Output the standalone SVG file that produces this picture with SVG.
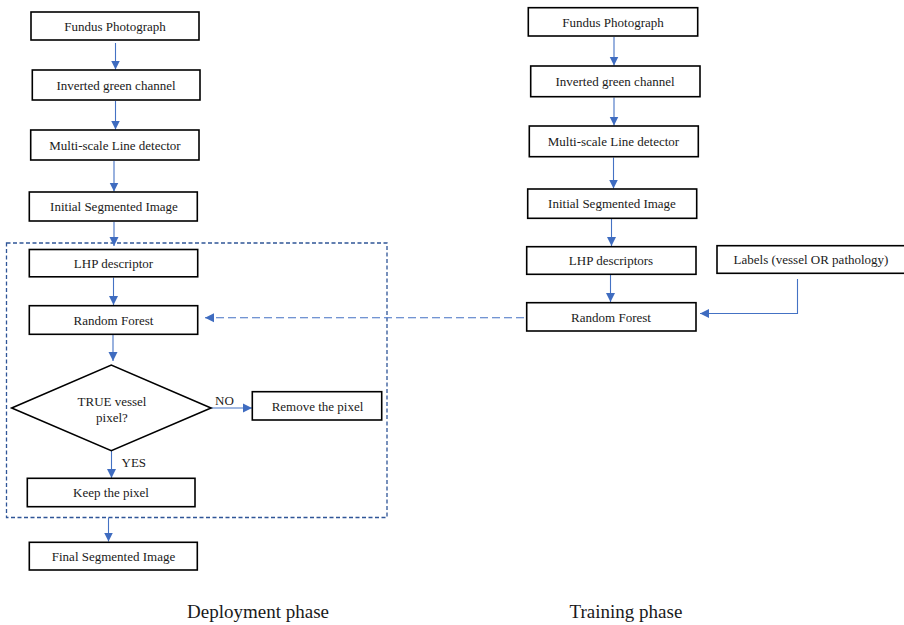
<svg xmlns="http://www.w3.org/2000/svg" width="904" height="625" viewBox="0 0 904 625">
<style>
.box{fill:#fff;stroke:#000;stroke-width:1.6}
.t{font-family:"Liberation Serif","Times New Roman",serif;font-size:13px;fill:#1a1a1a;text-anchor:middle}
.cap{font-family:"Liberation Serif","Times New Roman",serif;font-size:19px;fill:#1a1a1a;text-anchor:middle}
.lbl{font-family:"Liberation Serif","Times New Roman",serif;font-size:13px;fill:#1a1a1a}
.c{fill:none;stroke:#4472C4;stroke-width:1.1}
.dash{fill:none;stroke:#4472C4;stroke-width:1.1;stroke-dasharray:8,4}
.frame{fill:none;stroke:#2F5597;stroke-width:1.3;stroke-dasharray:4,2.5}
</style>
<defs>
<marker id="ah" viewBox="0 0 10 10" refX="10" refY="5" markerWidth="9" markerHeight="10" markerUnits="userSpaceOnUse" orient="auto">
<path d="M0,0 L10,5 L0,10 z" fill="#3F6CC0"/>
</marker>
</defs>

<rect class="frame" x="6.5" y="243" width="380.5" height="274.5"/>

<g id="connectors">
<line class="c" x1="115.5" y1="43" x2="115.5" y2="69.5" marker-end="url(#ah)"/>
<line class="c" x1="115.5" y1="101" x2="115.5" y2="129.5" marker-end="url(#ah)"/>
<line class="c" x1="114" y1="161" x2="114" y2="191.5" marker-end="url(#ah)"/>
<line class="c" x1="114" y1="222" x2="114" y2="246" marker-end="url(#ah)"/>
<line class="c" x1="113.5" y1="277.5" x2="113.5" y2="305" marker-end="url(#ah)"/>
<line class="c" x1="113" y1="335" x2="113" y2="361" marker-end="url(#ah)"/>
<line class="c" x1="211" y1="408" x2="252" y2="408" marker-end="url(#ah)"/>
<line class="c" x1="111.5" y1="451" x2="111.5" y2="478" marker-end="url(#ah)"/>
<line class="c" x1="108.5" y1="517.5" x2="108.5" y2="541.5" marker-end="url(#ah)"/>
<line class="c" x1="614" y1="37" x2="614" y2="65.5" marker-end="url(#ah)"/>
<line class="c" x1="614" y1="97.5" x2="614" y2="125.5" marker-end="url(#ah)"/>
<line class="c" x1="613.5" y1="157.5" x2="613.5" y2="188.5" marker-end="url(#ah)"/>
<line class="c" x1="611.5" y1="219" x2="611.5" y2="246" marker-end="url(#ah)"/>
<line class="c" x1="610.5" y1="275" x2="610.5" y2="302" marker-end="url(#ah)"/>
<polyline class="c" points="797.5,279 797.5,313.5 700,313.5" marker-end="url(#ah)"/>
<line class="dash" x1="524" y1="317.7" x2="205" y2="317.7" marker-end="url(#ah)"/>
</g>

<g id="dep-fundus"><rect class="box" x="31" y="12" width="168" height="28"/><text class="t" x="115" y="30.5">Fundus Photograph</text></g>
<g id="dep-inverted"><rect class="box" x="32.3" y="70" width="167.7" height="30"/><text class="t" x="116" y="89.5">Inverted green channel</text></g>
<g id="dep-multiscale"><rect class="box" x="30.7" y="130" width="168.3" height="30"/><text class="t" x="115" y="149.5">Multi-scale Line detector</text></g>
<g id="dep-initial"><rect class="box" x="29.3" y="192" width="168" height="29"/><text class="t" x="114" y="211">Initial Segmented Image</text></g>
<g id="dep-lhp"><rect class="box" x="29.3" y="249.5" width="168.4" height="27.3"/><text class="t" x="113.5" y="268">LHP descriptor</text></g>
<g id="dep-rf"><rect class="box" x="29.3" y="305.7" width="168.4" height="28.6"/><text class="t" x="113.5" y="324.5">Random Forest</text></g>
<g id="dep-decision"><polygon class="box" points="11.7,408 111.3,365 211,408 111.3,450.7"/><text class="t" x="112" y="406">TRUE vessel</text><text class="t" x="112" y="422">pixel?</text></g>
<g id="dep-remove"><rect class="box" x="252.3" y="391.7" width="129.4" height="28.3"/><text class="t" x="317.5" y="410.5">Remove the pixel</text></g>
<g id="dep-keep"><rect class="box" x="27.3" y="478.3" width="167.7" height="28.4"/><text class="t" x="111" y="497">Keep the pixel</text></g>
<g id="dep-final"><rect class="box" x="29.3" y="542.3" width="168" height="27.7"/><text class="t" x="113.5" y="561">Final Segmented Image</text></g>
<text class="lbl" x="215" y="404.5">NO</text>
<text class="lbl" x="121.5" y="467">YES</text>

<g id="tr-fundus"><rect class="box" x="528.3" y="7.7" width="169.4" height="28.3"/><text class="t" x="613" y="26.5">Fundus Photograph</text></g>
<g id="tr-inverted"><rect class="box" x="530.7" y="66" width="169.3" height="30.7"/><text class="t" x="615" y="85.5">Inverted green channel</text></g>
<g id="tr-multiscale"><rect class="box" x="529.3" y="126" width="169" height="30.7"/><text class="t" x="613.5" y="145.5">Multi-scale Line detector</text></g>
<g id="tr-initial"><rect class="box" x="527.7" y="189" width="169" height="29.3"/><text class="t" x="612" y="208">Initial Segmented Image</text></g>
<g id="tr-lhp"><rect class="box" x="526.7" y="246.7" width="169.3" height="27.6"/><text class="t" x="611" y="265">LHP descriptors</text></g>
<g id="tr-labels"><rect class="box" x="717" y="245.7" width="188" height="27.6"/><text class="t" x="811" y="264">Labels (vessel OR pathology)</text></g>
<g id="tr-rf"><rect class="box" x="526.7" y="302.7" width="169.3" height="28.3"/><text class="t" x="611" y="321.5">Random Forest</text></g>

<text class="cap" x="258" y="618">Deployment phase</text>
<text class="cap" x="626" y="618">Training phase</text>
</svg>
